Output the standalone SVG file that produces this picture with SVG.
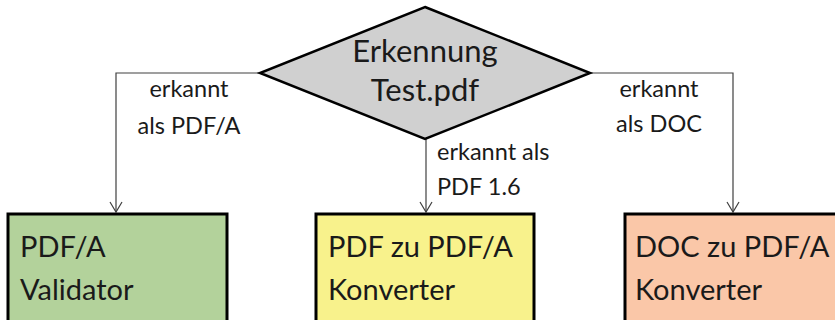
<svg xmlns="http://www.w3.org/2000/svg" width="835" height="320" viewBox="0 0 835 320">
<style>
text{font-family:Lato,"Liberation Sans",sans-serif;fill:#1a1a1a}
.box{stroke:#000;stroke-width:3}
.node{font-size:29px}
.lbl{font-size:23.5px}
.c{fill:none;stroke:#404040;stroke-width:1.2}
</style>
<defs>
<marker id="ah" markerWidth="14" markerHeight="14" refX="12" refY="7" orient="auto" markerUnits="userSpaceOnUse">
<path d="M2,1 L12,7 L2,13" fill="none" stroke="#404040" stroke-width="1.2"/>
</marker>
</defs>
<rect width="835" height="320" fill="#fff"/>
<g id="connectors">
<path class="c" d="M260,73 H116 V212" marker-end="url(#ah)"/>
<path class="c" d="M426,139 V212" marker-end="url(#ah)"/>
<path class="c" d="M590,73 H733 V212" marker-end="url(#ah)"/>
<text class="lbl" x="189" y="97" text-anchor="middle">erkannt</text>
<text class="lbl" x="189" y="134" text-anchor="middle">als PDF/A</text>
<text class="lbl" x="437" y="160">erkannt als</text>
<text class="lbl" x="437" y="195">PDF 1.6</text>
<text class="lbl" x="659" y="97" text-anchor="middle">erkannt</text>
<text class="lbl" x="659" y="132" text-anchor="middle">als DOC</text>
</g>
<g id="erkennung">
<polygon points="425,7 590,73 425,139 260,73" fill="#d0d0d0" stroke="#000" stroke-width="2.5"/>
<text x="425" y="62" font-size="31" text-anchor="middle">Erkennung</text>
<text x="425" y="101" font-size="31" text-anchor="middle">Test.pdf</text>
</g>
<g id="validator">
<rect class="box" x="8" y="214" width="219" height="120" fill="#b3d29b"/>
<text class="node" x="20" y="257">PDF/A</text>
<text class="node" x="20" y="300">Validator</text>
</g>
<g id="pdfkonverter">
<rect class="box" x="316" y="214" width="218" height="120" fill="#f8f28c"/>
<text class="node" x="328" y="257">PDF zu PDF/A</text>
<text class="node" x="328" y="300">Konverter</text>
</g>
<g id="dockonverter">
<rect class="box" x="625" y="214" width="230" height="120" fill="#fac7a8"/>
<text class="node" x="635" y="257">DOC zu PDF/A</text>
<text class="node" x="635" y="300">Konverter</text>
</g>
</svg>
